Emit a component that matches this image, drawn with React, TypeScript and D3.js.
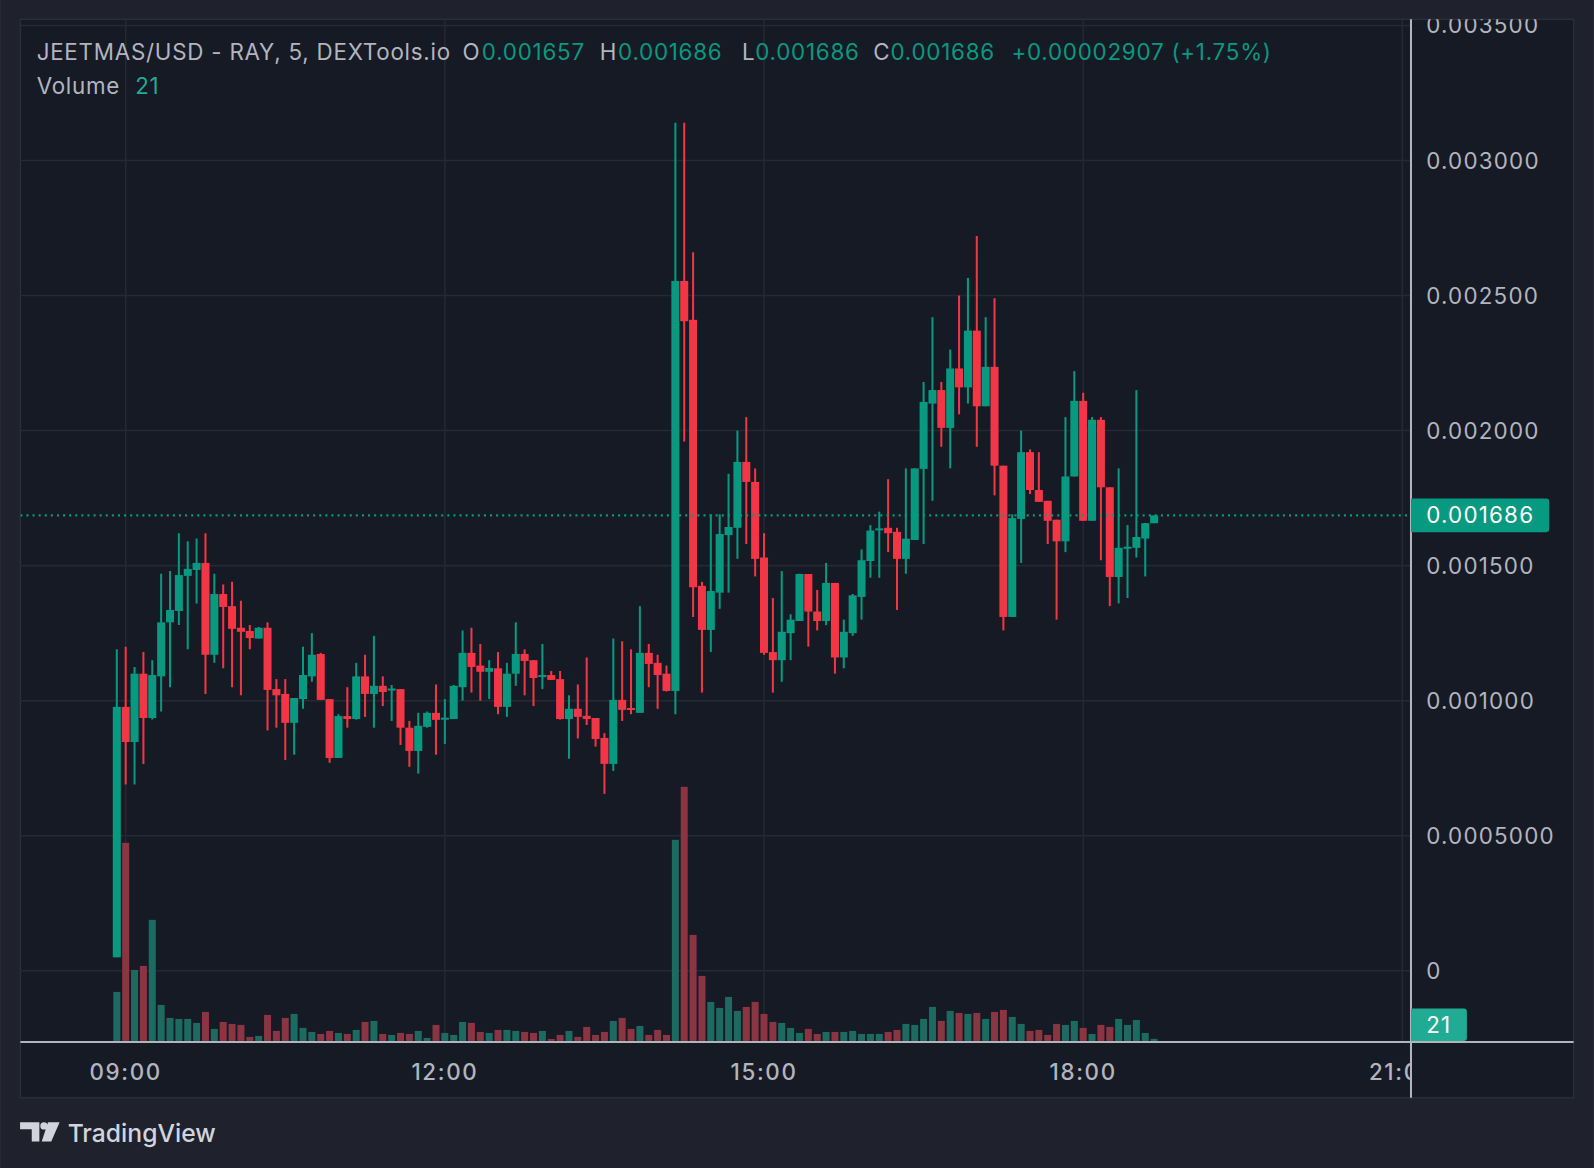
import React, { useEffect, useRef } from 'react'
import * as d3 from 'd3'

// 5 minute candles, first one at 08:55
const startTime = new Date(2024, 11, 20, 8, 55)

const opens = [
  0.00005, 0.000977, 0.000847, 0.0011, 0.000936, 0.00109, 0.00129, 0.001332, 0.001462, 0.001484,
  0.00151, 0.00117, 0.001395, 0.00135, 0.00127, 0.001258, 0.00123, 0.00127, 0.001043, 0.001025,
  0.000918, 0.001006, 0.00109, 0.001173, 0.001006, 0.000788, 0.000943, 0.000932, 0.00109, 0.001025,
  0.001055, 0.00104, 0.001043, 0.0009, 0.000814, 0.000903, 0.000955, 0.000933, 0.000932, 0.00105,
  0.001177, 0.00113, 0.001107, 0.00112, 0.000977, 0.0011, 0.001173, 0.00115, 0.00109, 0.001095,
  0.00108, 0.000932, 0.00097, 0.000944, 0.000936, 0.000862, 0.000766, 0.001003, 0.000973, 0.000955,
  0.001177, 0.00114, 0.0011, 0.001036, 0.002554, 0.00241, 0.001425, 0.001262, 0.0014, 0.001613,
  0.00164, 0.001884, 0.00181, 0.00153, 0.00118, 0.00115, 0.00125, 0.001295, 0.001469, 0.00133,
  0.001295, 0.001436, 0.00116, 0.00125, 0.001384, 0.001517, 0.001634, 0.00164, 0.001625, 0.001525,
  0.001595, 0.001858, 0.0021, 0.00215, 0.00201, 0.00223, 0.00216, 0.00237, 0.00209, 0.002236,
  0.00187, 0.00131, 0.001673, 0.00192, 0.00178, 0.00174, 0.00167, 0.00159, 0.00183, 0.00211,
  0.001666, 0.00204, 0.00179, 0.001458, 0.001567, 0.001566, 0.0016, 0.001657,
]
const highs = [
  0.00119, 0.0012, 0.001125, 0.00118, 0.00115, 0.00147, 0.00148, 0.00162, 0.00159, 0.0016,
  0.00162, 0.00147, 0.00143, 0.00144, 0.00137, 0.00128, 0.001273, 0.00129, 0.00108, 0.00108,
  0.00101, 0.0012, 0.00125, 0.001177, 0.001006, 0.00095, 0.00105, 0.00114, 0.00117, 0.00124,
  0.00109, 0.001058, 0.001043, 0.000925, 0.000955, 0.00096, 0.00106, 0.001006, 0.001058, 0.00126,
  0.00127, 0.00121, 0.00115, 0.00118, 0.00114, 0.00129, 0.00119, 0.00115, 0.00121, 0.00111,
  0.00111, 0.00102, 0.00106, 0.00116, 0.000936, 0.00088, 0.00123, 0.00122, 0.00119, 0.00135,
  0.00121, 0.00117, 0.00113, 0.00314, 0.00314, 0.00266, 0.00144, 0.00169, 0.00169, 0.00184,
  0.002, 0.00205, 0.00186, 0.00162, 0.00138, 0.00148, 0.00132, 0.00147, 0.001469, 0.00141,
  0.00151, 0.001436, 0.0013, 0.001395, 0.00156, 0.00165, 0.0017, 0.00182, 0.00164, 0.00186,
  0.00186, 0.00218, 0.00242, 0.00218, 0.0023, 0.0025, 0.002565, 0.00272, 0.00242, 0.00249,
  0.00187, 0.00169, 0.002, 0.00193, 0.00192, 0.00174, 0.00167, 0.00205, 0.00222, 0.00214,
  0.00205, 0.00205, 0.00179, 0.00186, 0.00165, 0.00215, 0.001658, 0.001686,
]
const lows = [
  0.00005, 0.00069, 0.00069, 0.000766, 0.00093, 0.00096, 0.00105, 0.00128, 0.00119, 0.00136,
  0.001025, 0.00114, 0.00112, 0.00105, 0.00102, 0.00119, 0.00123, 0.00089, 0.0009, 0.00078,
  0.0008, 0.00097, 0.00107, 0.001003, 0.00077, 0.000788, 0.0009, 0.00093, 0.00094, 0.0009,
  0.00098, 0.000925, 0.000836, 0.000755, 0.00073, 0.0009, 0.0008, 0.00084, 0.000932, 0.001,
  0.00103, 0.001, 0.001006, 0.00095, 0.00094, 0.001055, 0.00102, 0.00098, 0.001043, 0.001077,
  0.00093, 0.000785, 0.00086, 0.00091, 0.00083, 0.000655, 0.00074, 0.000925, 0.00095, 0.000955,
  0.00105, 0.00097, 0.001034, 0.00095, 0.00196, 0.00131, 0.00103, 0.00118, 0.00134, 0.0014,
  0.001525, 0.00158, 0.00146, 0.00117, 0.00103, 0.00107, 0.00115, 0.001295, 0.0012, 0.00126,
  0.00128, 0.0011, 0.00112, 0.00124, 0.0013, 0.001455, 0.001455, 0.00155, 0.001336, 0.00147,
  0.001595, 0.00158, 0.00174, 0.00194, 0.00186, 0.00206, 0.0021, 0.00194, 0.00209, 0.00176,
  0.00126, 0.00131, 0.00151, 0.001765, 0.001736, 0.00158, 0.0013, 0.00155, 0.00183, 0.001666,
  0.001666, 0.00152, 0.00135, 0.00136, 0.00138, 0.00153, 0.00146, 0.001657,
]
const closes = [
  0.000977, 0.000847, 0.0011, 0.000936, 0.001095, 0.00129, 0.001336, 0.001465, 0.001488, 0.00151,
  0.00117, 0.001395, 0.001347, 0.001266, 0.001255, 0.001232, 0.00127, 0.00104, 0.00102, 0.000918,
  0.00101, 0.001095, 0.00117, 0.001003, 0.000788, 0.000943, 0.000932, 0.00109, 0.001025, 0.001055,
  0.001032, 0.001045, 0.0009, 0.000814, 0.000907, 0.000955, 0.000929, 0.000937, 0.001055, 0.001177,
  0.001125, 0.001107, 0.001121, 0.000977, 0.0011, 0.001173, 0.001147, 0.001084, 0.001095, 0.001077,
  0.000932, 0.00097, 0.00094, 0.000932, 0.000858, 0.000766, 0.001003, 0.000966, 0.000966, 0.001177,
  0.001136, 0.001095, 0.001036, 0.002554, 0.002405, 0.00142, 0.001262, 0.001406, 0.001617, 0.001643,
  0.001884, 0.00181, 0.001525, 0.001177, 0.00115, 0.001255, 0.0013, 0.001469, 0.00133, 0.001295,
  0.001436, 0.00116, 0.001255, 0.00139, 0.00152, 0.00163, 0.001638, 0.00162, 0.001525, 0.0016,
  0.00186, 0.002106, 0.00215, 0.00201, 0.00223, 0.00216, 0.00237, 0.00209, 0.002236, 0.00187,
  0.00131, 0.001676, 0.00192, 0.00178, 0.001736, 0.001666, 0.00159, 0.00183, 0.00211, 0.001666,
  0.00204, 0.00179, 0.001458, 0.001566, 0.00157, 0.001606, 0.001657, 0.001686,
]
const volumes = [
  490, 1980, 710, 750, 1210, 360, 230, 220, 220, 180, 290, 120, 190, 170, 160, 40, 50, 260, 100, 230,
  270, 130, 90, 70, 100, 80, 70, 110, 190, 200, 70, 60, 80, 70, 100, 30, 160, 80, 60, 190,
  180, 90, 80, 110, 110, 100, 90, 80, 100, 20, 60, 100, 40, 140, 60, 90, 200, 230, 120, 150,
  60, 110, 60, 2010, 2540, 1060, 650, 390, 330, 440, 300, 340, 390, 270, 190, 180, 130, 80, 120, 70,
  90, 90, 90, 100, 70, 70, 70, 90, 110, 170, 160, 220, 340, 200, 300, 280, 270, 280, 220, 290,
  310, 240, 170, 100, 110, 60, 170, 160, 200, 130, 70, 160, 140, 220, 160, 210, 80, 21,
]

const priceTicks = [0.0035, 0.003, 0.0025, 0.002, 0.0015, 0.001, 0.0005, 0]
const priceTickLabels = ['0.003500', '0.003000', '0.002500', '0.002000', '0.001500', '0.001000', '0.0005000', '0']
const timeTickHours = [9, 12, 15, 18, 21]

const lastPrice = 0.001686
const lastPriceLabel = '0.001686'
const lastVolumeLabel = '21'

const titleText = 'JEETMAS/USD - RAY, 5, DEXTools.io'
const ohlcKeys = ['O', 'H', 'L', 'C']
const ohlcValues = ['0.001657', '0.001686', '0.001686', '0.001686']
const changeText = '+0.00002907 (+1.75%)'

// colours
const bgOuter = '#1f222d'
const bgPanel = '#161a25'
const gridColor = '#252935'
const axisColor = '#b2b5be'
const textColor = '#b2b5be'
const upColor = '#089981'
const downColor = '#f23645'
const volUp = '#1d6a61'
const volDown = '#8a3541'
const volLabelColor = '#22ab94'
const font = 'Inter, Roboto, "Noto Sans", sans-serif'

export default function App() {
  const svgRef = useRef<SVGSVGElement>(null)

  useEffect(() => {
    const W = 1568
    const H = 1149
    const panel = { left: 20, top: 19, right: 1548, bottom: 1080 }
    const plotRight = 1388
    const plotBottom = 1025

    const svgEl = d3.select(svgRef.current)
    svgEl.selectAll('*').remove()

    const bars = opens.map((o, i) => ({
      t: d3.timeMinute.offset(startTime, 5 * i),
      o,
      h: highs[i],
      l: lows[i],
      c: closes[i],
      v: volumes[i],
    }))

    const day = (h: number) => new Date(2024, 11, 20, h, 0)
    const x = d3.scaleTime().domain([day(9), day(21)]).range([123.6, 1379.5])
    const y = d3.scaleLinear().domain([0, 0.0035]).range([955, 25])
    const vy = d3.scaleLinear().domain([0, 2540]).range([1024, 774])

    const defs = svgEl.append('defs')
    defs
      .append('clipPath')
      .attr('id', 'plotClip')
      .append('rect')
      .attr('x', panel.left)
      .attr('y', panel.top)
      .attr('width', plotRight - panel.left)
      .attr('height', plotBottom - panel.top)
    defs
      .append('clipPath')
      .attr('id', 'priceAxisClip')
      .append('rect')
      .attr('x', plotRight)
      .attr('y', panel.top)
      .attr('width', panel.right - plotRight)
      .attr('height', plotBottom - panel.top)
    defs
      .append('clipPath')
      .attr('id', 'timeAxisClip')
      .append('rect')
      .attr('x', panel.left)
      .attr('y', plotBottom)
      .attr('width', plotRight - panel.left)
      .attr('height', panel.bottom - plotBottom)

    // backgrounds
    svgEl.append('rect').attr('width', W).attr('height', H).attr('fill', bgOuter)
    svgEl
      .append('rect')
      .attr('x', panel.left)
      .attr('y', panel.top)
      .attr('width', panel.right - panel.left)
      .attr('height', panel.bottom - panel.top)
      .attr('fill', bgPanel)
      .attr('stroke', '#2a2e39')
      .attr('stroke-width', 1.5)

    const plot = svgEl.append('g').attr('clip-path', 'url(#plotClip)')

    // grid
    plot
      .append('g')
      .selectAll('line')
      .data(priceTicks)
      .join('line')
      .attr('x1', panel.left)
      .attr('x2', plotRight)
      .attr('y1', (d) => y(d))
      .attr('y2', (d) => y(d))
      .attr('stroke', gridColor)
      .attr('stroke-width', 1.5)
    plot
      .append('g')
      .selectAll('line')
      .data(timeTickHours)
      .join('line')
      .attr('x1', (d) => x(day(d)))
      .attr('x2', (d) => x(day(d)))
      .attr('y1', panel.top)
      .attr('y2', plotBottom)
      .attr('stroke', gridColor)
      .attr('stroke-width', 1.5)

    // volume
    const volW = 6.9
    plot
      .append('g')
      .selectAll('rect')
      .data(bars)
      .join('rect')
      .attr('x', (d) => x(d.t) - volW / 2)
      .attr('y', (d) => vy(d.v))
      .attr('width', volW)
      .attr('height', (d) => vy(0) - vy(d.v))
      .attr('fill', (d) => (d.c >= d.o ? volUp : volDown))

    // candles
    const bodyW = 7.9
    const candles = plot.append('g').selectAll('g').data(bars).join('g')
    candles
      .append('line')
      .attr('x1', (d) => x(d.t))
      .attr('x2', (d) => x(d.t))
      .attr('y1', (d) => y(d.h))
      .attr('y2', (d) => y(d.l))
      .attr('stroke', (d) => (d.c >= d.o ? upColor : downColor))
      .attr('stroke-width', 2)
    candles
      .append('rect')
      .attr('x', (d) => x(d.t) - bodyW / 2)
      .attr('y', (d) => y(Math.max(d.o, d.c)))
      .attr('width', bodyW)
      .attr('height', (d) => Math.max(2, Math.abs(y(d.o) - y(d.c))))
      .attr('fill', (d) => (d.c >= d.o ? upColor : downColor))

    // last price line
    plot
      .append('line')
      .attr('x1', panel.left)
      .attr('x2', plotRight)
      .attr('y1', y(lastPrice))
      .attr('y2', y(lastPrice))
      .attr('stroke', upColor)
      .attr('stroke-width', 2)
      .attr('stroke-dasharray', '2 4')

    // price axis labels
    const priceAxis = svgEl.append('g').attr('clip-path', 'url(#priceAxisClip)')
    priceAxis
      .selectAll('text')
      .data(priceTicks)
      .join('text')
      .attr('x', 1403)
      .attr('y', (d) => y(d))
      .attr('dy', '0.36em')
      .attr('fill', textColor)
      .attr('font-family', font)
      .attr('font-size', 22)
      .attr('letter-spacing', 1.2)
      .text((d, i) => priceTickLabels[i])

    // time axis labels
    const timeAxis = svgEl.append('g').attr('clip-path', 'url(#timeAxisClip)')
    const fmt = d3.timeFormat('%H:%M')
    timeAxis
      .selectAll('text')
      .data(timeTickHours)
      .join('text')
      .attr('x', (d) => x(day(d)))
      .attr('y', 1062)
      .attr('text-anchor', 'middle')
      .attr('fill', textColor)
      .attr('font-family', font)
      .attr('font-size', 22)
      .attr('font-weight', 500)
      .attr('letter-spacing', 1.6)
      .text((d) => fmt(day(d)))

    // axis lines
    svgEl
      .append('line')
      .attr('x1', panel.left)
      .attr('x2', panel.right)
      .attr('y1', plotBottom)
      .attr('y2', plotBottom)
      .attr('stroke', axisColor)
      .attr('stroke-width', 2)
    svgEl
      .append('line')
      .attr('x1', plotRight)
      .attr('x2', plotRight)
      .attr('y1', panel.top)
      .attr('y2', panel.bottom)
      .attr('stroke', axisColor)
      .attr('stroke-width', 2)

    // last price badge
    const py = y(lastPrice)
    svgEl
      .append('path')
      .attr('d', `M${plotRight},${py - 16.5} H1521 Q1524,${py - 16.5} 1524,${py - 13.5} V${py + 13.5} Q1524,${py + 16.5} 1521,${py + 16.5} H${plotRight} Z`)
      .attr('fill', upColor)
    svgEl
      .append('text')
      .attr('x', 1403)
      .attr('y', py)
      .attr('dy', '0.36em')
      .attr('fill', '#ffffff')
      .attr('font-family', font)
      .attr('font-size', 22)
      .attr('letter-spacing', 1.2)
      .text(lastPriceLabel)

    // last volume badge
    svgEl
      .append('path')
      .attr('d', `M${plotRight},992 H1440 Q1443,992 1443,995 V1021 Q1443,1024 1440,1024 H${plotRight} Z`)
      .attr('fill', volLabelColor)
    svgEl
      .append('text')
      .attr('x', 1403)
      .attr('y', 1008)
      .attr('dy', '0.36em')
      .attr('fill', '#ffffff')
      .attr('font-family', font)
      .attr('font-size', 22)
      .attr('letter-spacing', 1.2)
      .text(lastVolumeLabel)

    // legend
    const legend = svgEl.append('g').attr('font-family', font).attr('font-size', 22).attr('letter-spacing', 0.75)
    legend.append('text').attr('x', 36).attr('y', 59).attr('fill', textColor).text(titleText)
    const keyX = [455, 590, 730, 859]
    const valX = [474, 608, 743, 876]
    ohlcKeys.forEach((k, i) => {
      legend.append('text').attr('x', keyX[i]).attr('y', 59).attr('fill', textColor).text(k)
      legend.append('text').attr('x', valX[i]).attr('y', 59).attr('fill', upColor).text(ohlcValues[i])
    })
    legend.append('text').attr('x', 995).attr('y', 59).attr('fill', upColor).text(changeText)
    legend.append('text').attr('x', 36).attr('y', 92).attr('fill', textColor).text('Volume')
    legend.append('text').attr('x', 133).attr('y', 92).attr('fill', volLabelColor).text(lastVolumeLabel)

    // TradingView mark
    const logo = svgEl.append('g').attr('fill', '#d1d4dc')
    logo.append('path').attr('d', 'M19.7,1104 H38.7 V1123 H31.2 V1111 H19.7 Z')
    logo.append('circle').attr('cx', 43.2).attr('cy', 1107.6).attr('r', 3.6)
    logo.append('path').attr('d', 'M47.2,1104 H58.6 L50.4,1123 H41 Z')
    logo
      .append('text')
      .attr('x', 66.5)
      .attr('y', 1123)
      .attr('font-family', font)
      .attr('font-size', 24.3)
      .attr('font-weight', 500)
      .text('TradingView')
  }, [])

  return (
    <svg
      ref={svgRef}
      width={1594}
      height={1168}
      viewBox="0 0 1568 1149"
      style={{ position: 'absolute', left: 0, top: 0, display: 'block' }}
    />
  )
}
